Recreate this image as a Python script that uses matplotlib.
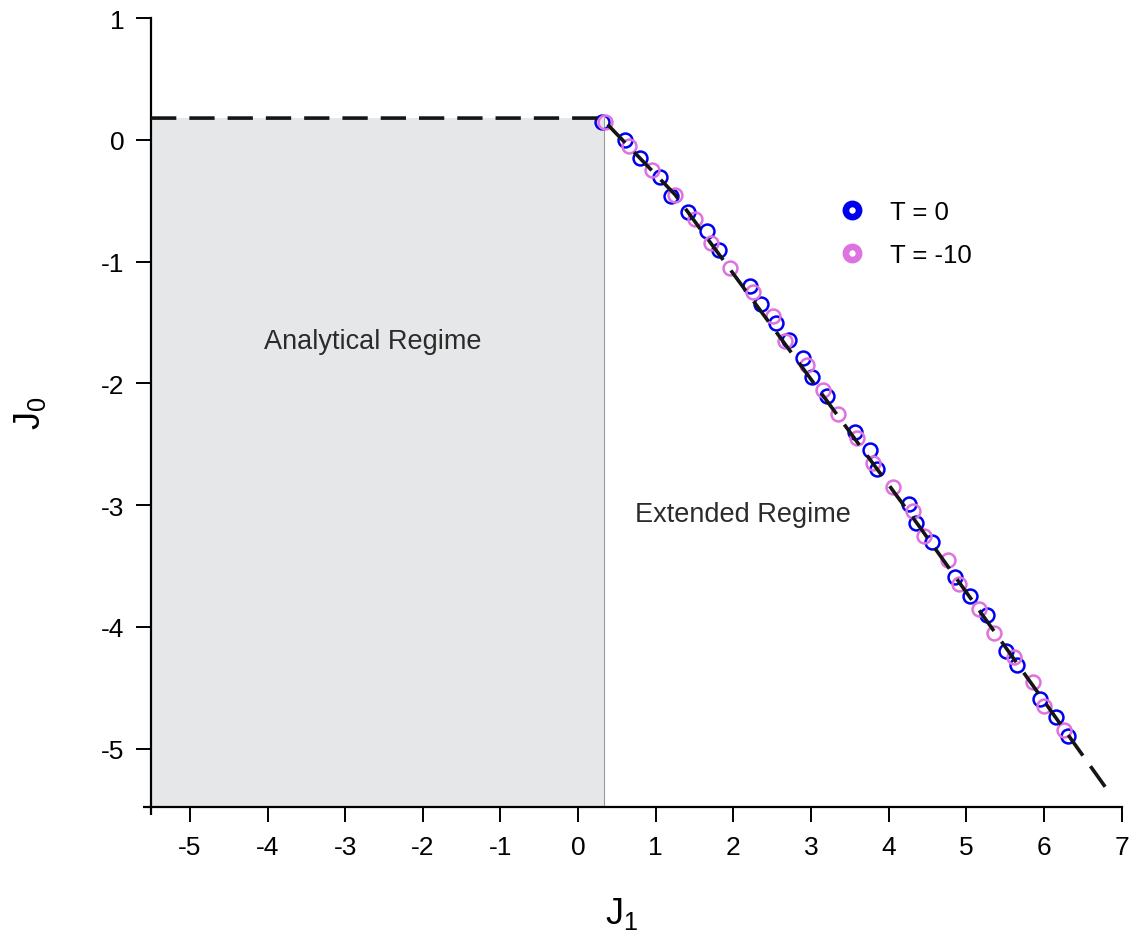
import matplotlib
matplotlib.use("Agg")
import matplotlib.pyplot as plt
from matplotlib.lines import Line2D

plt.rcParams['font.family'] = ['Liberation Sans', 'DejaVu Sans']
plt.rcParams['mathtext.fontset'] = 'custom'
plt.rcParams['mathtext.rm'] = 'Liberation Sans'
plt.rcParams['mathtext.it'] = 'Liberation Sans'
plt.rcParams['axes.unicode_minus'] = False

# Phase boundary (dashed): flat segment, corner, then the descending branch
boundary_j1 = [-5.5, 0.30, 1.25, 4.40, 6.85]
boundary_j0 = [0.18, 0.18, -0.45, -3.18, -5.37]

# Numerical boundary points, T = 0
t0_j1 = [0.31, 0.60, 0.80, 1.06, 1.20, 1.41, 1.66, 1.81, 2.22, 2.36,
         2.55, 2.71, 2.90, 3.01, 3.21, 3.57, 3.76, 3.85, 4.26, 4.35,
         4.56, 4.86, 5.05, 5.26, 5.51, 5.65, 5.95, 6.16, 6.31]
t0_j0 = [0.15, 0.00, -0.15, -0.30, -0.46, -0.59, -0.75, -0.90, -1.20, -1.35,
         -1.50, -1.64, -1.79, -1.95, -2.10, -2.40, -2.55, -2.70, -2.99, -3.15,
         -3.30, -3.59, -3.75, -3.90, -4.20, -4.31, -4.59, -4.74, -4.90]

# Numerical boundary points, T = -10
tm10_j1 = [0.35, 0.65, 0.95, 1.25, 1.51, 1.71, 1.96, 2.25, 2.51, 2.67,
           2.95, 3.15, 3.35, 3.59, 3.80, 4.05, 4.31, 4.46, 4.76, 4.91,
           5.16, 5.35, 5.61, 5.86, 6.00, 6.26]
tm10_j0 = [0.15, -0.05, -0.25, -0.45, -0.65, -0.85, -1.05, -1.25, -1.45, -1.65,
           -1.85, -2.05, -2.25, -2.45, -2.65, -2.85, -3.05, -3.25, -3.45, -3.65,
           -3.85, -4.05, -4.25, -4.45, -4.65, -4.85]

x_ticks = [-5, -4, -3, -2, -1, 0, 1, 2, 3, 4, 5, 6, 7]
y_ticks = [1, 0, -1, -2, -3, -4, -5]
x_lim = (-5.5, 7)
y_lim = (-5.48, 1)

blue = '#0000F0'
pink = '#DE72DE'

fig = plt.figure(figsize=(11.34, 9.45), dpi=100)
ax = fig.add_axes([0.1332, 0.145, 0.8559, 0.8346])

# Shaded analytical region below the flat part of the boundary
corner_j1 = 0.33
ax.fill_between([x_lim[0], corner_j1], y_lim[0], boundary_j0[1],
                color='#E6E7E8', lw=0, zorder=0)
ax.plot([corner_j1, corner_j1], [y_lim[0], boundary_j0[1]],
        color='#9a9a9a', lw=0.8, zorder=1)

ax.plot(t0_j1, t0_j0, ls='none', marker='o', ms=10, mfc='none',
        mec=blue, mew=1.8, zorder=3)
ax.plot(tm10_j1, tm10_j0, ls='none', marker='o', ms=10, mfc='none',
        mec=pink, mew=1.8, zorder=4)

ax.plot(boundary_j1, boundary_j0, color='#151515', lw=2.6,
        dashes=(7, 3.6), solid_capstyle='butt', dash_capstyle='butt',
        zorder=5, clip_on=False)

ax.text(-2.65, -1.65, 'Analytical Regime', ha='center', va='center',
        fontsize=19.5, color='#2b2b2b')
ax.text(2.12, -3.07, 'Extended Regime', ha='center', va='center',
        fontsize=19.5, color='#2b2b2b')

handles = [
    Line2D([], [], ls='none', marker='o', ms=9.5, mfc='white', mec=blue, mew=4.8),
    Line2D([], [], ls='none', marker='o', ms=9.5, mfc='white', mec=pink, mew=4.8),
]
ax.legend(handles, ['T = 0', 'T = -10'], loc='upper left',
          bbox_to_anchor=(0.6984, 0.783), frameon=False, fontsize=18.5,
          handlelength=1.0, handletextpad=0.98, labelspacing=0.77,
          borderpad=0.4, borderaxespad=0)

ax.set_xlim(*x_lim)
ax.set_ylim(*y_lim)
ax.set_xticks(x_ticks)
ax.set_yticks(y_ticks)
ax.set_xticks([x_lim[0]], minor=True)
ax.set_yticks([y_lim[0]], minor=True)

for side in ('top', 'right'):
    ax.spines[side].set_visible(False)
for side in ('left', 'bottom'):
    ax.spines[side].set_linewidth(1.6)
    ax.spines[side].set_color('black')

ax.tick_params(which='major', direction='out', length=11, width=1.4,
               labelsize=19, colors='black')
ax.tick_params(axis='x', which='major', pad=9)
ax.tick_params(axis='y', which='major', pad=8)
ax.tick_params(which='minor', direction='out', length=5.5, width=1.6)

ax.set_xlabel(r'$\mathregular{J_1}$', fontsize=26)
ax.xaxis.set_label_coords(0.485, -0.112)
ax.set_ylabel(r'$\mathregular{J_0}$', fontsize=26, labelpad=38)

fig.savefig('out.png', dpi=100)
